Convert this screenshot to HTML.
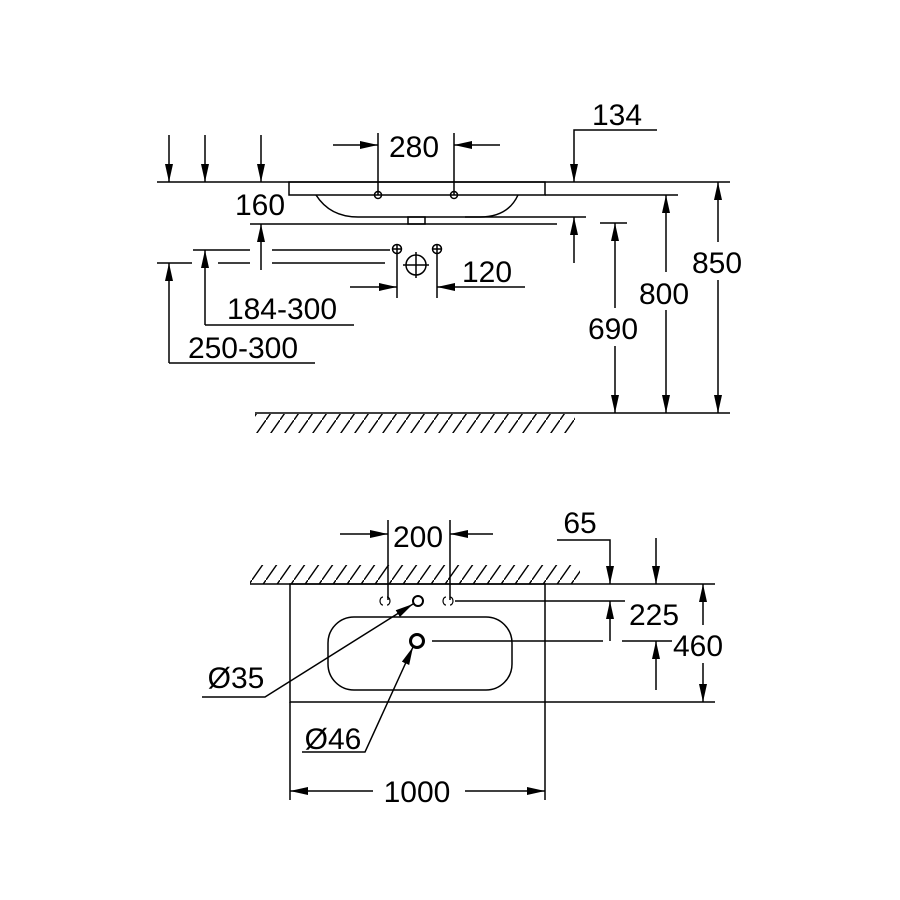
<!DOCTYPE html>
<html><head><meta charset="utf-8"><style>body{margin:0;background:#fff}svg{display:block}</style></head><body>
<svg width="900" height="900" viewBox="0 0 900 900" xmlns="http://www.w3.org/2000/svg" font-family="Liberation Sans, Arial, sans-serif" font-size="30" fill="none" stroke="#000" stroke-width="1.5">
<defs>
<marker id="a" viewBox="0 0 18 8" refX="18" refY="4" markerWidth="18" markerHeight="8" markerUnits="userSpaceOnUse" orient="auto"><path d="M0,0L18,4L0,8z" fill="#000" stroke="none"/></marker>
<pattern id="h" width="14" height="20" patternUnits="userSpaceOnUse"><path d="M0,20L14,0" stroke="#000" stroke-width="1.4"/></pattern>
</defs>
<!-- TOP VIEW -->
<line x1="157" y1="182" x2="730" y2="182"/>
<rect x="289" y="182" width="256" height="13"/>
<line x1="545" y1="195" x2="678" y2="195"/>
<path d="M316,195 Q330,217 358,217 L480,217 Q508,217 518,195"/>
<rect x="408" y="217" width="17" height="7"/>
<line x1="250" y1="224" x2="557" y2="224"/>
<line x1="465" y1="217" x2="586" y2="217"/>
<line x1="600" y1="223" x2="627" y2="223"/>
<line x1="169" y1="135" x2="169" y2="182" marker-end="url(#a)"/>
<line x1="205" y1="135" x2="205" y2="182" marker-end="url(#a)"/>
<line x1="261" y1="135" x2="261" y2="182" marker-end="url(#a)"/>
<line x1="378" y1="133" x2="378" y2="195"/><line x1="454" y1="133" x2="454" y2="195"/>
<line x1="333" y1="145" x2="378" y2="145" marker-end="url(#a)"/>
<line x1="500" y1="145" x2="454" y2="145" marker-end="url(#a)"/>
<circle cx="378" cy="195" r="3.5"/><circle cx="454" cy="195" r="3.5"/>
<text x="414" y="157" fill="#000" stroke="none" text-anchor="middle">280</text>
<text x="260" y="215" fill="#000" stroke="none" text-anchor="middle">160</text>
<line x1="261" y1="270" x2="261" y2="224" marker-end="url(#a)"/>
<line x1="193" y1="250" x2="250" y2="250"/><line x1="272" y1="250" x2="390" y2="250"/>
<line x1="157" y1="263" x2="192" y2="263"/><line x1="218" y1="263" x2="250" y2="263"/><line x1="272" y1="263" x2="385" y2="263"/>
<circle cx="397" cy="249" r="4.5"/><path d="M392,249h10M397,244v10"/>
<circle cx="437" cy="249" r="4.5"/><path d="M432,249h10M437,244v10"/>
<circle cx="416" cy="265" r="10"/><path d="M403,265h26M416,252v26"/>
<line x1="397" y1="254" x2="397" y2="298"/><line x1="437" y1="254" x2="437" y2="298"/>
<line x1="350" y1="287" x2="397" y2="287" marker-end="url(#a)"/>
<line x1="525" y1="287" x2="437" y2="287" marker-end="url(#a)"/>
<text x="487" y="282" fill="#000" stroke="none" text-anchor="middle">120</text>
<line x1="205" y1="325" x2="205" y2="250" marker-end="url(#a)"/>
<line x1="205" y1="325" x2="354" y2="325"/>
<text x="282" y="319" fill="#000" stroke="none" text-anchor="middle">184-300</text>
<line x1="169" y1="363" x2="169" y2="263" marker-end="url(#a)"/>
<line x1="169" y1="363" x2="315" y2="363"/>
<text x="243" y="358" fill="#000" stroke="none" text-anchor="middle">250-300</text>
<polyline points="657,130 574,130 574,182" marker-end="url(#a)"/>
<text x="617" y="125" fill="#000" stroke="none" text-anchor="middle">134</text>
<line x1="574" y1="263" x2="574" y2="217" marker-end="url(#a)"/>
<line x1="615" y1="308" x2="615" y2="223" marker-end="url(#a)"/>
<line x1="615" y1="346" x2="615" y2="413" marker-end="url(#a)"/>
<text x="613" y="339" fill="#000" stroke="none" text-anchor="middle">690</text>
<line x1="666" y1="272" x2="666" y2="195" marker-end="url(#a)"/>
<line x1="666" y1="310" x2="666" y2="413" marker-end="url(#a)"/>
<text x="664" y="304" fill="#000" stroke="none" text-anchor="middle">800</text>
<line x1="718" y1="242" x2="718" y2="182" marker-end="url(#a)"/>
<line x1="718" y1="280" x2="718" y2="413" marker-end="url(#a)"/>
<text x="717" y="273" fill="#000" stroke="none" text-anchor="middle">850</text>
<line x1="255" y1="413" x2="730" y2="413"/>
<rect x="255" y="414" width="320" height="19" fill="url(#h)" stroke="none"/>
<!-- BOTTOM VIEW -->
<rect x="250" y="565" width="330" height="19" fill="url(#h)" stroke="none"/>
<line x1="250" y1="584" x2="715" y2="584"/>
<rect x="290" y="584" width="255" height="118"/>
<line x1="545" y1="702" x2="715" y2="702"/>
<rect x="328" y="617" width="184" height="73" rx="26"/>
<path d="M383,597a3,4 0 0,0 0,8M387,597a3,4 0 0,1 0,8M446,597a3,4 0 0,0 0,8M450,597a3,4 0 0,1 0,8" stroke-width="1.2"/>
<circle cx="418" cy="601" r="5" stroke-width="2"/>
<circle cx="417" cy="641" r="6.5" stroke-width="3"/>
<line x1="432" y1="641" x2="603" y2="641"/><line x1="622" y1="641" x2="672" y2="641"/>
<line x1="388" y1="520" x2="388" y2="600"/><line x1="450" y1="520" x2="450" y2="600"/>
<line x1="340" y1="534" x2="388" y2="534" marker-end="url(#a)"/>
<line x1="493" y1="534" x2="450" y2="534" marker-end="url(#a)"/>
<text x="418" y="547" fill="#000" stroke="none" text-anchor="middle">200</text>
<line x1="455" y1="601" x2="625" y2="601"/>
<line x1="610" y1="641" x2="610" y2="601" marker-end="url(#a)"/>
<line x1="656" y1="690" x2="656" y2="641" marker-end="url(#a)"/>
<text x="654" y="625" fill="#000" stroke="none" text-anchor="middle">225</text>
<polyline points="557,540 610,540 610,584" marker-end="url(#a)"/>
<text x="580" y="533" fill="#000" stroke="none" text-anchor="middle">65</text>
<line x1="656" y1="538" x2="656" y2="584" marker-end="url(#a)"/>
<line x1="703" y1="625" x2="703" y2="584" marker-end="url(#a)"/>
<line x1="703" y1="663" x2="703" y2="702" marker-end="url(#a)"/>
<text x="698" y="656" fill="#000" stroke="none" text-anchor="middle">460</text>
<polyline points="202,697 265,697 413,604" marker-end="url(#a)"/>
<text x="236" y="688" fill="#000" stroke="none" text-anchor="middle">Ø35</text>
<polyline points="302,752 365,752 413,647" marker-end="url(#a)"/>
<text x="333" y="749" fill="#000" stroke="none" text-anchor="middle">Ø46</text>
<line x1="290" y1="702" x2="290" y2="800"/><line x1="545" y1="702" x2="545" y2="800"/>
<line x1="373" y1="791" x2="290" y2="791" marker-end="url(#a)"/>
<line x1="465" y1="791" x2="545" y2="791" marker-end="url(#a)"/>
<text x="417" y="802" fill="#000" stroke="none" text-anchor="middle">1000</text>
</svg>
</body></html>
